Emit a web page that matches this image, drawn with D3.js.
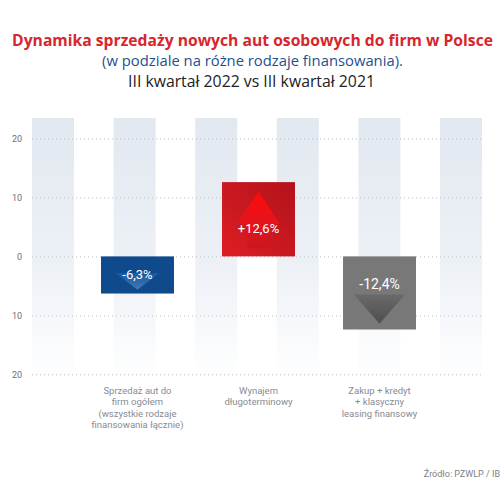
<!DOCTYPE html>
<html><head><meta charset="utf-8">
<script src="https://cdn.jsdelivr.net/npm/d3@7"></script>
<style>body{margin:0;background:#fff}svg{display:block}</style>
</head><body><svg id="c" width="500" height="500"></svg>
<script>
const categories = [
  ["Sprzedaż aut do","firm ogółem","(wszystkie rodzaje","finansowania łącznie)"],
  ["Wynajem","długoterminowy"],
  ["Zakup + kredyt","+ klasyczny","leasing finansowy"]
];
const values = [-6.3, 12.6, -12.4];
const valueLabels = ["-6,3%", "+12,6%", "-12,4%"];
const yTicks = [-20, -10, 0, 10, 20];
const titleText = "Dynamika sprzedaży nowych aut osobowych do firm w Polsce";
const subtitleText = "(w podziale na różne rodzaje finansowania).";
const periodText = "III kwartał 2022 vs III kwartał 2021";
const sourceText = "Źródło: PZWLP / IB";

const svg = d3.select("#c");
const defs = svg.append("defs");

const y = d3.scaleLinear().domain([-20, 20]).range([374.3, 138.5]);
const x = d3.scaleBand().domain(d3.range(categories.length)).range([101, 416]).paddingInner(0.397).paddingOuter(0);
const stripes = d3.scaleBand().domain(d3.range(6)).range([32, 482]).paddingInner(0.485).paddingOuter(0);

// gradients
const sg = defs.append("linearGradient").attr("id","stripe").attr("x1",0).attr("y1",0).attr("x2",0).attr("y2",1);
sg.append("stop").attr("offset","0").attr("stop-color","#e2e8f0");
sg.append("stop").attr("offset","0.6").attr("stop-color","#eef2f7");
sg.append("stop").attr("offset","1").attr("stop-color","#ffffff");

const rg = defs.append("linearGradient").attr("id","redbar").attr("x1",1).attr("y1",0).attr("x2",0).attr("y2",1);
rg.append("stop").attr("offset","0").attr("stop-color","#b3121b");
rg.append("stop").attr("offset","1").attr("stop-color","#dd1e24");
const ra = defs.append("linearGradient").attr("id","redarrow").attr("x1",0).attr("y1",0).attr("x2",0).attr("y2",1);
ra.append("stop").attr("offset","0").attr("stop-color","#ff0a0a");
ra.append("stop").attr("offset","0.55").attr("stop-color","#e4151c");
ra.append("stop").attr("offset","1").attr("stop-color","#cc161d");
const ba = defs.append("linearGradient").attr("id","bluearrow").attr("x1",0).attr("y1",0).attr("x2",0).attr("y2",1);
ba.append("stop").attr("offset","0").attr("stop-color","#1d5aa0");
ba.append("stop").attr("offset","1").attr("stop-color","#4a80c4");
const ga = defs.append("linearGradient").attr("id","greyarrow").attr("x1",0).attr("y1",0).attr("x2",0).attr("y2",1);
ga.append("stop").attr("offset","0").attr("stop-color","#6a6a6a");
ga.append("stop").attr("offset","1").attr("stop-color","#4e4e4e");

// stripes
svg.append("g").selectAll("rect").data(stripes.domain()).join("rect")
  .attr("x", d => stripes(d)).attr("width", stripes.bandwidth())
  .attr("y", 118).attr("height", 262).attr("fill", "url(#stripe)");

// grid + axis
const axis = d3.axisLeft(y).tickValues(yTicks).tickFormat(d => Math.abs(d)).tickSize(-450);
const ag = svg.append("g").attr("transform","translate(32,0)").call(axis);
ag.select(".domain").remove();
ag.selectAll(".tick line").attr("stroke","#b8bec6").attr("stroke-dasharray","1,3").attr("stroke-width",1);
ag.selectAll(".tick text").attr("x",-10).attr("fill","#6b7078").attr("font-family","Roboto, sans-serif").attr("font-size","9px");

// bars
const barFill = ["#0e4a8c", "url(#redbar)", "#787878"];
const bars = svg.append("g");
values.forEach((v, i) => {
  const x0 = x(i), w = x.bandwidth();
  const top = Math.min(y(v), y(0)), bot = Math.max(y(v), y(0));
  const cx = x0 + w / 2;
  bars.append("rect").attr("x", x0).attr("y", top).attr("width", w).attr("height", bot - top).attr("fill", barFill[i]);
  const h = bot - top;
  if (i === 1) {
    const p = d3.path();
    const ay = top + 0.13*h, hy = top + 0.56*h, sy = top + 0.89*h;
    p.moveTo(cx, ay); p.lineTo(cx + 0.295*w, hy); p.lineTo(cx + 0.16*w, hy);
    p.lineTo(cx + 0.16*w, sy); p.lineTo(cx - 0.16*w, sy); p.lineTo(cx - 0.16*w, hy);
    p.lineTo(cx - 0.295*w, hy); p.closePath();
    bars.append("path").attr("d", p.toString()).attr("fill","url(#redarrow)");
  } else if (i === 0) {
    const p = d3.path();
    const ty = top + 0.45*h, ay = top + 0.9*h;
    p.moveTo(cx - 0.3*w, ty); p.lineTo(cx + 0.3*w, ty); p.lineTo(cx, ay); p.closePath();
    bars.append("path").attr("d", p.toString()).attr("fill","url(#bluearrow)").attr("opacity",0.85);
  } else {
    const p = d3.path();
    const ty = top + 0.52*h, ay = top + 0.92*h;
    p.moveTo(cx - 0.35*w, ty); p.lineTo(cx + 0.35*w, ty); p.lineTo(cx, ay); p.closePath();
    bars.append("path").attr("d", p.toString()).attr("fill","url(#greyarrow)");
  }
  const ly = [278.5, 232.5, 288.5][i];
  const fs = [13, 13, 14][i];
  bars.append("text").attr("x", cx).attr("y", ly).attr("text-anchor","middle")
    .attr("fill","#ffffff").attr("font-family","Roboto, sans-serif").attr("font-size", fs + "px")
    .text(valueLabels[i]);
});

// category labels
const cl = svg.append("g").attr("font-family","Roboto, sans-serif").attr("font-size","9.5px").attr("fill","#868b94").attr("text-anchor","middle");
categories.forEach((lines, i) => {
  const t = cl.append("text").attr("x", x(i) + x.bandwidth()/2).attr("y", 394);
  lines.forEach((ln, j) => t.append("tspan").attr("x", x(i) + x.bandwidth()/2).attr("dy", j ? 11.3 : 0).text(ln));
});

// titles
function fitText(sel, target) {
  const w = sel.node().getComputedTextLength();
  const fs = parseFloat(sel.attr("font-size"));
  sel.attr("font-size", (fs * target / w).toFixed(2) + "px");
}
const t1 = svg.append("text").attr("x", 252.5).attr("y", 46).attr("text-anchor","middle")
  .attr("font-family","'Open Sans', sans-serif").attr("font-weight",700).attr("font-size","17px")
  .attr("fill","#d7262d").text(titleText);
fitText(t1, 481);
const t2 = svg.append("text").attr("x", 252.5).attr("y", 66).attr("text-anchor","middle")
  .attr("font-family","'Open Sans', sans-serif").attr("font-size","14px")
  .attr("fill","#1f4f8f").text(subtitleText);
fitText(t2, 301);
const t3 = svg.append("text").attr("x", 251.5).attr("y", 87).attr("text-anchor","middle")
  .attr("font-family","'Open Sans', sans-serif").attr("font-size","14px")
  .attr("fill","#222222").text(periodText);
fitText(t3, 247);

svg.append("text").attr("x", 500).attr("y", 477).attr("text-anchor","end")
  .attr("font-family","Roboto, sans-serif").attr("font-size","9px").attr("fill","#7a7f88").text(sourceText);
</script></body></html>
